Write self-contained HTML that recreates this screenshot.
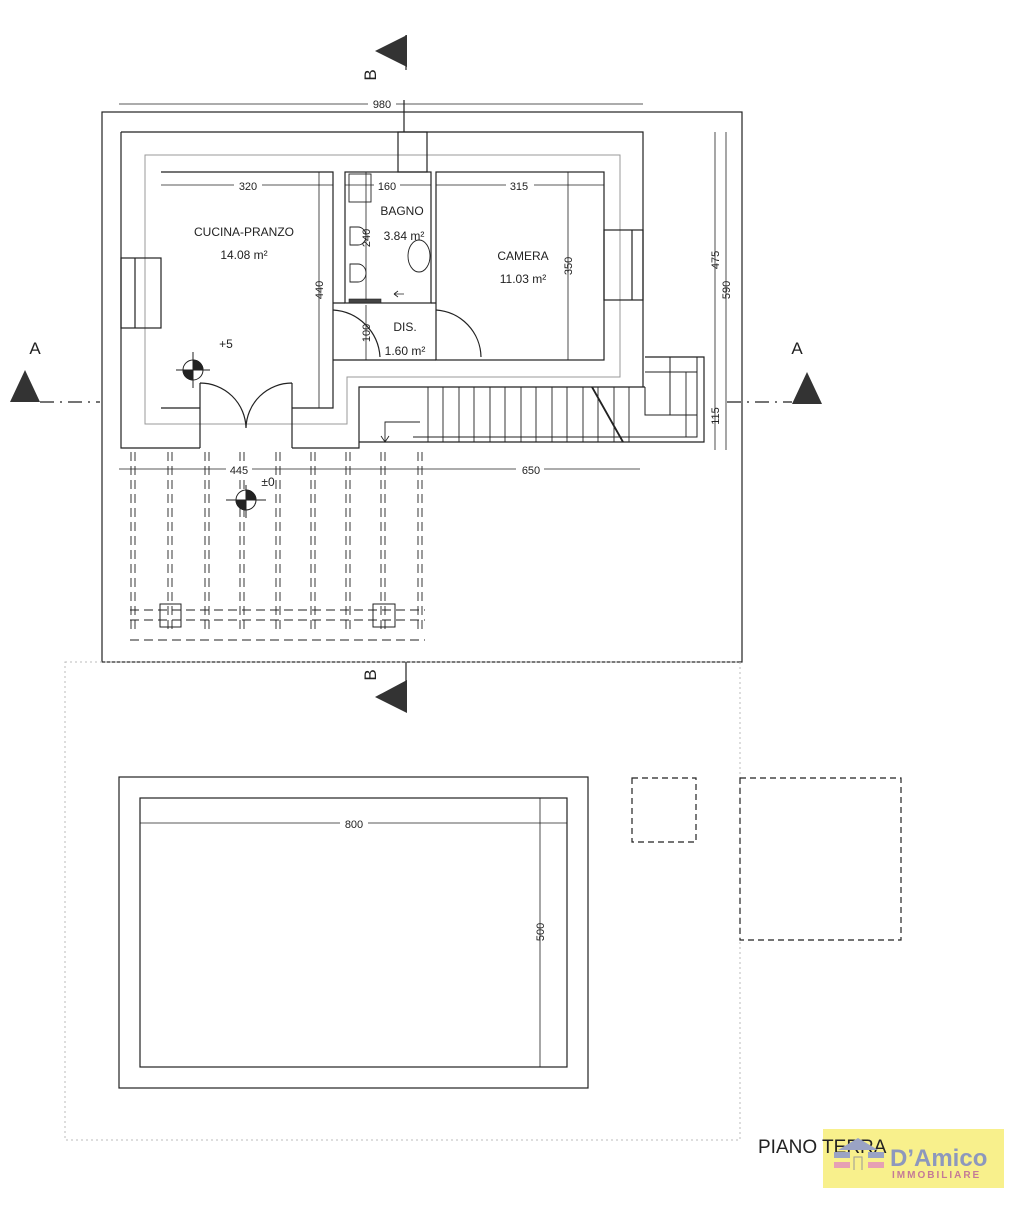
<!DOCTYPE html>
<html><head><meta charset="utf-8"><style>
html,body{margin:0;padding:0;background:#fff;}
svg{display:block;font-family:"Liberation Sans",sans-serif;}
</style></head><body>
<svg width="1024" height="1208" viewBox="0 0 1024 1208" xmlns="http://www.w3.org/2000/svg">
<rect width="1024" height="1208" fill="#fff"/>
<g fill="none" stroke="#222" stroke-width="1.2">
<!-- site -->
<rect x="102" y="112" width="640" height="550"/>
<!-- lower area faint -->
<rect x="65" y="662" width="675" height="478" stroke="#bbb" stroke-dasharray="2,3" stroke-width="1"/>
<!-- pool -->
<rect x="119" y="777" width="469" height="311"/>
<rect x="140" y="798" width="427" height="269"/>
<!-- dashed boxes -->
<rect x="632" y="778" width="64" height="64" stroke-dasharray="6,4"/>
<rect x="740" y="778" width="161" height="162" stroke-dasharray="6,4"/>
<!-- building outer wall -->
<path d="M121 132 H643 V387 M121 132 V448 H200 M292 448 H359 V387 H645"/>
<path d="M413 442 H704 V357 H645"/>
<path d="M359 442 H413"/>
<!-- gray insulation line -->
<path d="M145 155 H620 V377 H347 V424 H145 Z" stroke="#999" stroke-width="1"/>
<!-- kitchen -->
<path d="M161 172 H333 V408 H292 M200 408 H161 Z"/>
<!-- bath -->
<rect x="345" y="172" width="86" height="131"/>
<!-- camera -->
<rect x="436" y="172" width="168" height="188"/>
<!-- DIS -->
<path d="M333 303 H345 M431 303 H436 M333 360 H436"/>
<!-- chimney -->
<rect x="398" y="132" width="29" height="40"/>
<line x1="404" y1="100" x2="404" y2="132"/>
<!-- windows -->
<rect x="121" y="258" width="40" height="70"/>
<line x1="135" y1="258" x2="135" y2="328"/>
<rect x="604" y="230" width="39" height="70"/>
<line x1="632" y1="230" x2="632" y2="300"/>
<!-- stairs -->
<path d="M697 357 V437 H413 M645 372 H697 M670 357 V415 M645 387 V415 H697" stroke-width="1"/>
<path d="M428 387 V442 M443 387 V442 M459 387 V442 M474 387 V442 M490 387 V442 M505 387 V442 M521 387 V442 M536 387 V442 M552 387 V442 M567 387 V442 M583 387 V442 M598 387 V442 M614 387 V442 M629 387 V442 M686 372 V437" stroke-width="0.9"/>
<line x1="592" y1="387" x2="623" y2="442" stroke-width="1.8"/>
<path d="M385 442 V422 H420" stroke-width="0.9"/>
<path d="M381 436 L385 442 L389 436" stroke-width="0.9"/>
<!-- doors -->
<path d="M200 383 V448 M292 383 V448 M200 383 A46 46 0 0 1 246 428 M292 383 A46 46 0 0 0 246 428"/>
<path d="M333 310 A50 50 0 0 1 380 357"/>
<path d="M436 310 A48 48 0 0 1 481 357"/>
<!-- bath fixtures -->
<rect x="349" y="174" width="22" height="28" stroke-width="0.9"/>
<path d="M350 227 h8 a8 9 0 0 1 0 18 h-8 z" stroke-width="0.9"/>
<path d="M350 264 h8 a8 9 0 0 1 0 18 h-8 z" stroke-width="0.9"/>
<ellipse cx="419" cy="256" rx="11" ry="16" stroke-width="0.9"/>
<rect x="349" y="299" width="32" height="4" fill="#444" stroke-width="0.6"/>
<path d="M394 294 H404 M394 294 l4 -3 M394 294 l4 3" stroke-width="0.8"/>
<!-- dimension lines -->
<g stroke-width="0.8">
<line x1="119" y1="104" x2="643" y2="104"/>
<line x1="161" y1="185" x2="333" y2="185"/>
<line x1="345" y1="185" x2="431" y2="185"/>
<line x1="436" y1="185" x2="604" y2="185"/>
<line x1="319" y1="172" x2="319" y2="408"/>
<line x1="568" y1="172" x2="568" y2="360"/>
<line x1="366" y1="305" x2="366" y2="360"/>
<line x1="366" y1="172" x2="366" y2="300"/>
<line x1="715" y1="132" x2="715" y2="450"/>
<line x1="726" y1="132" x2="726" y2="450"/>
<line x1="119" y1="469" x2="640" y2="469"/>
<line x1="140" y1="823" x2="567" y2="823"/>
<line x1="540" y1="798" x2="540" y2="1067"/>
</g>
<!-- section lines -->
<path d="M40 402 H100 M727 402 H792" stroke-dasharray="14,6,2,6"/>
<line x1="406" y1="35" x2="406" y2="70"/>
<line x1="406" y1="662" x2="406" y2="712"/>
<!-- pergola -->
<g stroke-width="0.9" stroke-dasharray="9,5">
<path d="M131 452 V630 M135 452 V630 M168 452 V630 M172 452 V630 M205 452 V630 M209 452 V630 M240 452 V630 M244 452 V630 M276 452 V630 M280 452 V630 M311 452 V630 M315 452 V630 M346 452 V630 M350 452 V630 M381 452 V630 M385 452 V630 M418 452 V630 M422 452 V630"/>
<path d="M130 610 H425 M130 620 H425 M130 640 H425"/>
</g>
<rect x="160" y="604" width="21" height="23" stroke-width="1"/>
<rect x="373" y="604" width="22" height="23" stroke-width="1"/>
</g>
<!-- level markers -->
<g stroke="#222" stroke-width="1">
<line x1="176" y1="370" x2="210" y2="370"/><line x1="193" y1="352" x2="193" y2="388"/>
<circle cx="193" cy="370" r="10" fill="#fff"/>
<path d="M193 370 V360 A10 10 0 0 1 203 370 Z M193 370 V380 A10 10 0 0 1 183 370 Z" fill="#222"/>
<line x1="226" y1="500" x2="266" y2="500"/><line x1="246" y1="485" x2="246" y2="518"/>
<circle cx="246" cy="500" r="10" fill="#fff"/>
<path d="M246 500 V490 A10 10 0 0 1 256 500 Z M246 500 V510 A10 10 0 0 1 236 500 Z" fill="#222"/>
</g>
<!-- triangles -->
<g fill="#333">
<polygon points="10,402 40,402 25,370"/>
<polygon points="792,404 822,404 807,372"/>
<polygon points="407,35 407,67 375,51"/>
<polygon points="407,680 407,713 375,697"/>
</g>
<!-- texts -->
<g fill="#222" font-size="12">
<text x="35" y="354" font-size="17" text-anchor="middle">A</text>
<text x="797" y="354" font-size="17" text-anchor="middle">A</text>
<text transform="translate(376,75) rotate(-90)" font-size="17" text-anchor="middle">B</text>
<text transform="translate(376,675) rotate(-90)" font-size="17" text-anchor="middle">B</text>
<g font-size="11" text-anchor="middle">
<rect x="368" y="97" width="28" height="12" fill="#fff"/>
<text x="382" y="108">980</text>
<rect x="234" y="179" width="28" height="12" fill="#fff"/>
<text x="248" y="190">320</text>
<rect x="374" y="179" width="26" height="12" fill="#fff"/>
<text x="387" y="190">160</text>
<rect x="506" y="179" width="28" height="12" fill="#fff"/>
<text x="519" y="190">315</text>
<rect x="226" y="463" width="26" height="12" fill="#fff"/>
<text x="239" y="474">445</text>
<rect x="516" y="463" width="28" height="12" fill="#fff"/>
<text x="531" y="474">650</text>
<rect x="340" y="817" width="28" height="12" fill="#fff"/>
<text x="354" y="828">800</text>
</g>
<g font-size="11" text-anchor="middle">
<text transform="translate(323,290) rotate(-90)">440</text>
<text transform="translate(572,266) rotate(-90)">350</text>
<text transform="translate(370,333) rotate(-90)">100</text>
<text transform="translate(370,238) rotate(-90)">240</text>
<text transform="translate(719,260) rotate(-90)">475</text>
<text transform="translate(730,290) rotate(-90)">590</text>
<text transform="translate(719,416) rotate(-90)">115</text>
<text transform="translate(544,932) rotate(-90)">500</text>
</g>
<text x="244" y="236" text-anchor="middle">CUCINA-PRANZO</text>
<text x="244" y="259" text-anchor="middle">14.08 m²</text>
<text x="402" y="215" text-anchor="middle">BAGNO</text>
<text x="404" y="240" text-anchor="middle">3.84 m²</text>
<text x="523" y="260" text-anchor="middle">CAMERA</text>
<text x="523" y="283" text-anchor="middle">11.03 m²</text>
<text x="405" y="331" text-anchor="middle">DIS.</text>
<text x="405" y="355" text-anchor="middle">1.60 m²</text>
<text x="226" y="348" text-anchor="middle">+5</text>
<text x="268" y="486" text-anchor="middle">±0</text>
</g>
<!-- logo -->
<rect x="823" y="1129" width="181" height="59" fill="#f8f08c"/>
<text x="758" y="1153" font-size="19" fill="#222">PIANO TERRA</text>
<g fill="#9aa3c4">
<rect x="834" y="1152" width="16" height="6"/><rect x="868" y="1152" width="16" height="6"/>
<path d="M838 1150 L858 1138 L878 1150 Z"/>
</g>
<g fill="#e6a0b4"><rect x="834" y="1162" width="16" height="6"/><rect x="868" y="1162" width="16" height="6"/></g>
<path d="M854 1170 V1157 H862 V1170" stroke="#999" fill="none"/>
<text x="890" y="1166" font-size="24" font-weight="bold" fill="#8d98bd">D’Amico</text>
<text x="892" y="1178" font-size="10" font-weight="bold" fill="#c47a97" letter-spacing="2">IMMOBILIARE</text>
</svg>
</body></html>
